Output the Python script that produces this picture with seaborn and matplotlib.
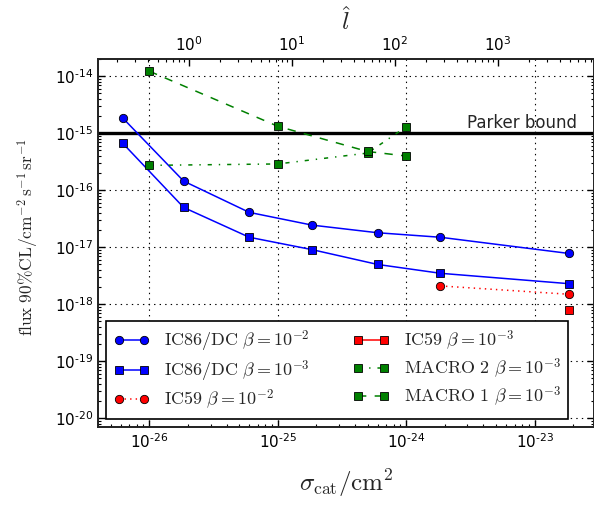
import numpy as np
import pandas as pd
import matplotlib
matplotlib.use("Agg")
import matplotlib.pyplot as plt
import seaborn as sns
from matplotlib.ticker import LogLocator, FuncFormatter, NullFormatter

# ---- data ----
sigma_ic86 = [6.2e-27, 1.85e-26, 6.0e-26, 1.85e-25, 6.0e-25, 1.85e-24, 1.85e-23]
flux_ic86_b2 = [1.86e-15, 1.45e-16, 4.1e-17, 2.45e-17, 1.8e-17, 1.5e-17, 7.8e-18]
flux_ic86_b3 = [6.7e-16, 5.0e-17, 1.5e-17, 9.1e-18, 5.0e-18, 3.5e-18, 2.3e-18]
sigma_ic59_b2 = [1.85e-24, 1.85e-23]
flux_ic59_b2 = [2.1e-18, 1.5e-18]
sigma_ic59_b3 = [1.85e-23]
flux_ic59_b3 = [8.1e-19]
sigma_macro = [1e-26, 1e-25, 5e-25, 1e-24]
flux_macro1 = [1.23e-14, 1.33e-15, 4.8e-16, 4.0e-16]
flux_macro2 = [2.74e-16, 2.9e-16, 4.5e-16, 1.3e-15]
parker_bound = 1e-15
x_ticks = [1e-26, 1e-25, 1e-24, 1e-23]
y_ticks = [1e-20, 1e-19, 1e-18, 1e-17, 1e-16, 1e-15, 1e-14]
top_ticks = [1e0, 1e1, 1e2, 1e3]

labels = {
    "ic86_b2": r"$\mathrm{IC86/DC}\ \beta=10^{-2}$",
    "ic86_b3": r"$\mathrm{IC86/DC}\ \beta=10^{-3}$",
    "ic59_b2": r"$\mathrm{IC59}\ \beta=10^{-2}$",
    "ic59_b3": r"$\mathrm{IC59}\ \beta=10^{-3}$",
    "macro2": r"$\mathrm{MACRO\ 2}\ \beta=10^{-3}$",
    "macro1": r"$\mathrm{MACRO\ 1}\ \beta=10^{-3}$",
}

sns.set_style("ticks")
plt.rcParams.update({
    "font.family": ["DejaVu Sans"],
    "lines.dashed_pattern": [6, 6],
    "lines.dashdot_pattern": [3, 5, 1, 5],
    "lines.dotted_pattern": [1, 3],
    "lines.scale_dashes": False,
})

fig = plt.figure(figsize=(5.94, 5.05), dpi=100)
ax = fig.add_axes([98 / 594, 1 - 427 / 505, 1 - 98 / 594, (427 - 59) / 505])
ax.set_xscale("log")
ax.set_yscale("log")

blue, red, green = "#0000ff", "#ff0000", "#008000"
common = dict(ax=ax, errorbar=None, markeredgecolor="k", markeredgewidth=0.6, sort=False)

sns.lineplot(x=sigma_ic86, y=flux_ic86_b2, color=blue, marker="o", markersize=6,
             linestyle="-", linewidth=1.1, label=labels["ic86_b2"], **common)
sns.lineplot(x=sigma_ic86, y=flux_ic86_b3, color=blue, marker="s", markersize=6,
             linestyle="-", linewidth=1.1, label=labels["ic86_b3"], **common)
sns.lineplot(x=sigma_ic59_b2, y=flux_ic59_b2, color=red, marker="o", markersize=6,
             linestyle=":", linewidth=1.1, label=labels["ic59_b2"], **common)
sns.lineplot(x=sigma_ic59_b3, y=flux_ic59_b3, color=red, marker="s", markersize=6,
             linestyle="-", linewidth=1.1, label=labels["ic59_b3"], **common)
sns.lineplot(x=sigma_macro, y=flux_macro2, color=green, marker="s", markersize=5.5,
             linestyle="-.", linewidth=1.1, label=labels["macro2"], **common)
sns.lineplot(x=sigma_macro, y=flux_macro1, color=green, marker="s", markersize=5.5,
             linestyle="--", linewidth=1.1, label=labels["macro1"], **common)

ax.axhline(parker_bound, color="k", linewidth=2.4, zorder=1)
ax.text(2.14e-23, parker_bound * 1.06, "Parker bound", ha="right", va="bottom", fontsize=12)

ax.set_xlim(10 ** -26.40, 10 ** -22.537)
ax.set_ylim(10 ** -20.153, 10 ** -13.696)

fmt = FuncFormatter(lambda v, p: r"$10^{\text{%d}}$" % int(round(np.log10(v))))
ax.set_xticks(x_ticks)
ax.set_yticks(y_ticks)
ax.xaxis.set_minor_locator(LogLocator(base=10, subs=np.arange(2, 10), numticks=50))
ax.yaxis.set_minor_locator(LogLocator(base=10, subs=np.arange(2, 10), numticks=50))
ax.xaxis.set_major_formatter(fmt)
ax.yaxis.set_major_formatter(fmt)
ax.xaxis.set_minor_formatter(NullFormatter())
ax.yaxis.set_minor_formatter(NullFormatter())
ax.tick_params(which="both", direction="in", top=False, right=True, labelsize=11, colors="k")
ax.tick_params(which="major", length=5, width=1)
ax.tick_params(which="minor", length=2.5, width=0.8)
ax.grid(True, which="major", linestyle=":", color="k", linewidth=0.8)
for s in ax.spines.values():
    s.set_linewidth(1.2)
    s.set_color("k")

ax.set_xlabel(r"$\sigma_{\rm cat}/{\rm cm}^2$", fontsize=18, math_fontfamily="cm", labelpad=12)
ax.set_ylabel(r"$\mathrm{flux\ 90\%CL/cm^{-2}\,s^{-1}\,sr^{-1}}$", fontsize=12.5,
              math_fontfamily="cm", labelpad=10, y=0.515)

# top axis
ax2 = ax.twiny()
ax2.set_xscale("log")
ax2.set_xlim(10 ** -0.883, 10 ** 3.93)
ax2.set_xticks(top_ticks)
ax2.xaxis.set_major_formatter(fmt)
ax2.xaxis.set_minor_locator(LogLocator(base=10, subs=np.arange(2, 10), numticks=50))
ax2.xaxis.set_minor_formatter(NullFormatter())
ax2.tick_params(which="both", direction="in", top=True, bottom=False, labelsize=11, colors="k")
ax2.tick_params(which="major", length=5, width=1)
ax2.tick_params(which="minor", length=2.5, width=0.8)
ax2.set_xlabel(r"$\hat{l}$", fontsize=18, math_fontfamily="cm", labelpad=4)
for s in ax2.spines.values():
    s.set_linewidth(1.2)

# legend
handles, labs = ax.get_legend_handles_labels()
leg = ax.legend(handles, labs, loc="lower left", ncol=2, numpoints=2, fontsize=13,
                handlelength=2.0, columnspacing=2.4, labelspacing=0.22, borderaxespad=0.45,
                fancybox=False, edgecolor="k", framealpha=1)
leg.get_frame().set_linewidth(1.2)
for t in leg.get_texts():
    t.set_math_fontfamily("cm")

fig.savefig("out.png", dpi=100)
